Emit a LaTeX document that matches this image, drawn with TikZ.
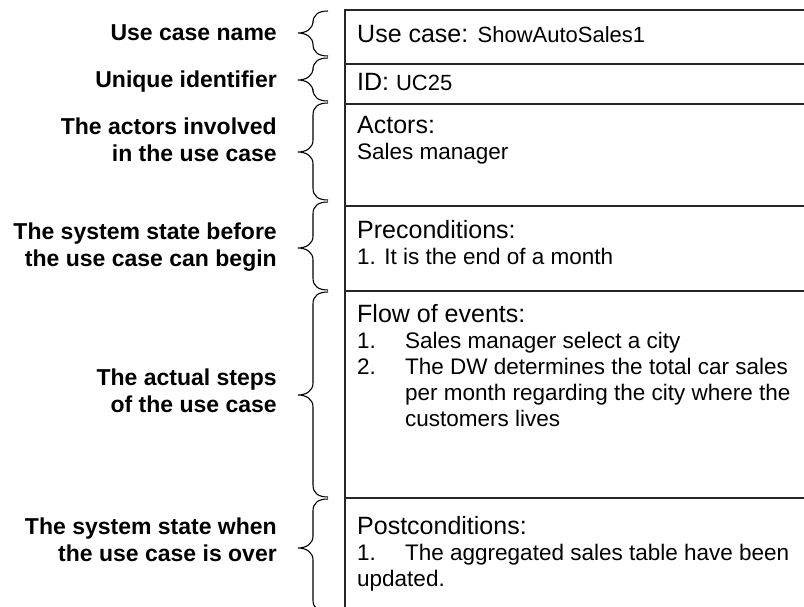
\documentclass[tikz,border=0pt]{standalone}
\usepackage{fontspec}
\setmainfont{Liberation Sans}
\begin{document}
\begin{tikzpicture}[x=1pt,y=-1pt,
  lbl/.style={anchor=base east,inner sep=0pt,align=right,font=\fontsize{23}{27}\selectfont\bfseries},
  head/.style={anchor=base west,inner sep=0pt,font=\fontsize{25}{26}\selectfont},
  body/.style={anchor=base west,inner sep=0pt,font=\fontsize{22.5}{26}\selectfont},
  rowline/.style={line width=1.4pt,draw=black!85},
  bracel/.style={line width=1.1pt,draw=black}]
\useasboundingbox (0,0) rectangle (804,607);
\newcommand{\mybrace}[3]{% top, tip, bottom
  \draw[bracel] (328,#1) .. controls (318,#1) and (313,#1+4) .. (313,#1+12)
    -- (313,#2-12) .. controls (313,#2-4) and (306,#2) .. (298,#2)
    .. controls (306,#2) and (313,#2+4) .. (313,#2+12)
    -- (313,#3-12) .. controls (313,#3-4) and (318,#3) .. (328,#3);}
% box
\draw[rowline] (810,10) -- (345,10) -- (345,612);
\foreach \yy in {64,104,206,291,498}{\draw[rowline] (345,\yy) -- (810,\yy);}
% braces
\mybrace{11}{33}{56}
\mybrace{58}{80}{101}
\mybrace{103}{152}{200}
\mybrace{202}{248}{290}
\mybrace{292}{395}{497}
\mybrace{499}{548}{612}
% labels (base = baseline of last line)
\node[lbl] (l1) at (277,41) {Use case name};
\node[lbl] (l2) at (277,88) {Unique identifier};
\node[lbl] (l3) at (277,162) {The actors involved\\in the use case};
\node[lbl] (l4) at (277,266) {The system state before\\the use case can begin};
\node[lbl] (l5) at (277,412) {The actual steps\\of the use case};
\node[lbl] (l6) at (277,561) {The system state when\\the use case is over};
% box texts
\node[head] (t1) at (357,43) {Use case: {\fontsize{22}{26}\selectfont ShowAutoSales1}};
\node[head] (t2) at (357,91) {ID: {\fontsize{22}{26}\selectfont UC25}};
\node[head] (t3) at (357,134) {Actors:};
\node[body] (t3b) at (357,160) {Sales manager};
\node[head] (t4) at (357,239) {Preconditions:};
\node[body] (t4b) at (357,265) {1. It is the end of a month};
\node[head] (t5) at (357,322) {Flow of events:};
\node[body] (t5a) at (357,348) {1.};
\node[body] (t5at) at (405,348) {Sales manager select a city};
\node[body] (t5b) at (357,374) {2.};
\node[body] (t5bt) at (405,374) {The DW determines the total car sales};
\node[body] (t5c) at (405,400) {per month regarding the city where the};
\node[body] (t5d) at (405,426) {customers lives};
\node[head] (t6) at (357,534) {Postconditions:};
\node[body] (t6a) at (357,560) {1.};
\node[body] (t6at) at (405,560) {The aggregated sales table have been};
\node[body] (t6b) at (357,586) {updated.};
\end{tikzpicture}
\end{document}
